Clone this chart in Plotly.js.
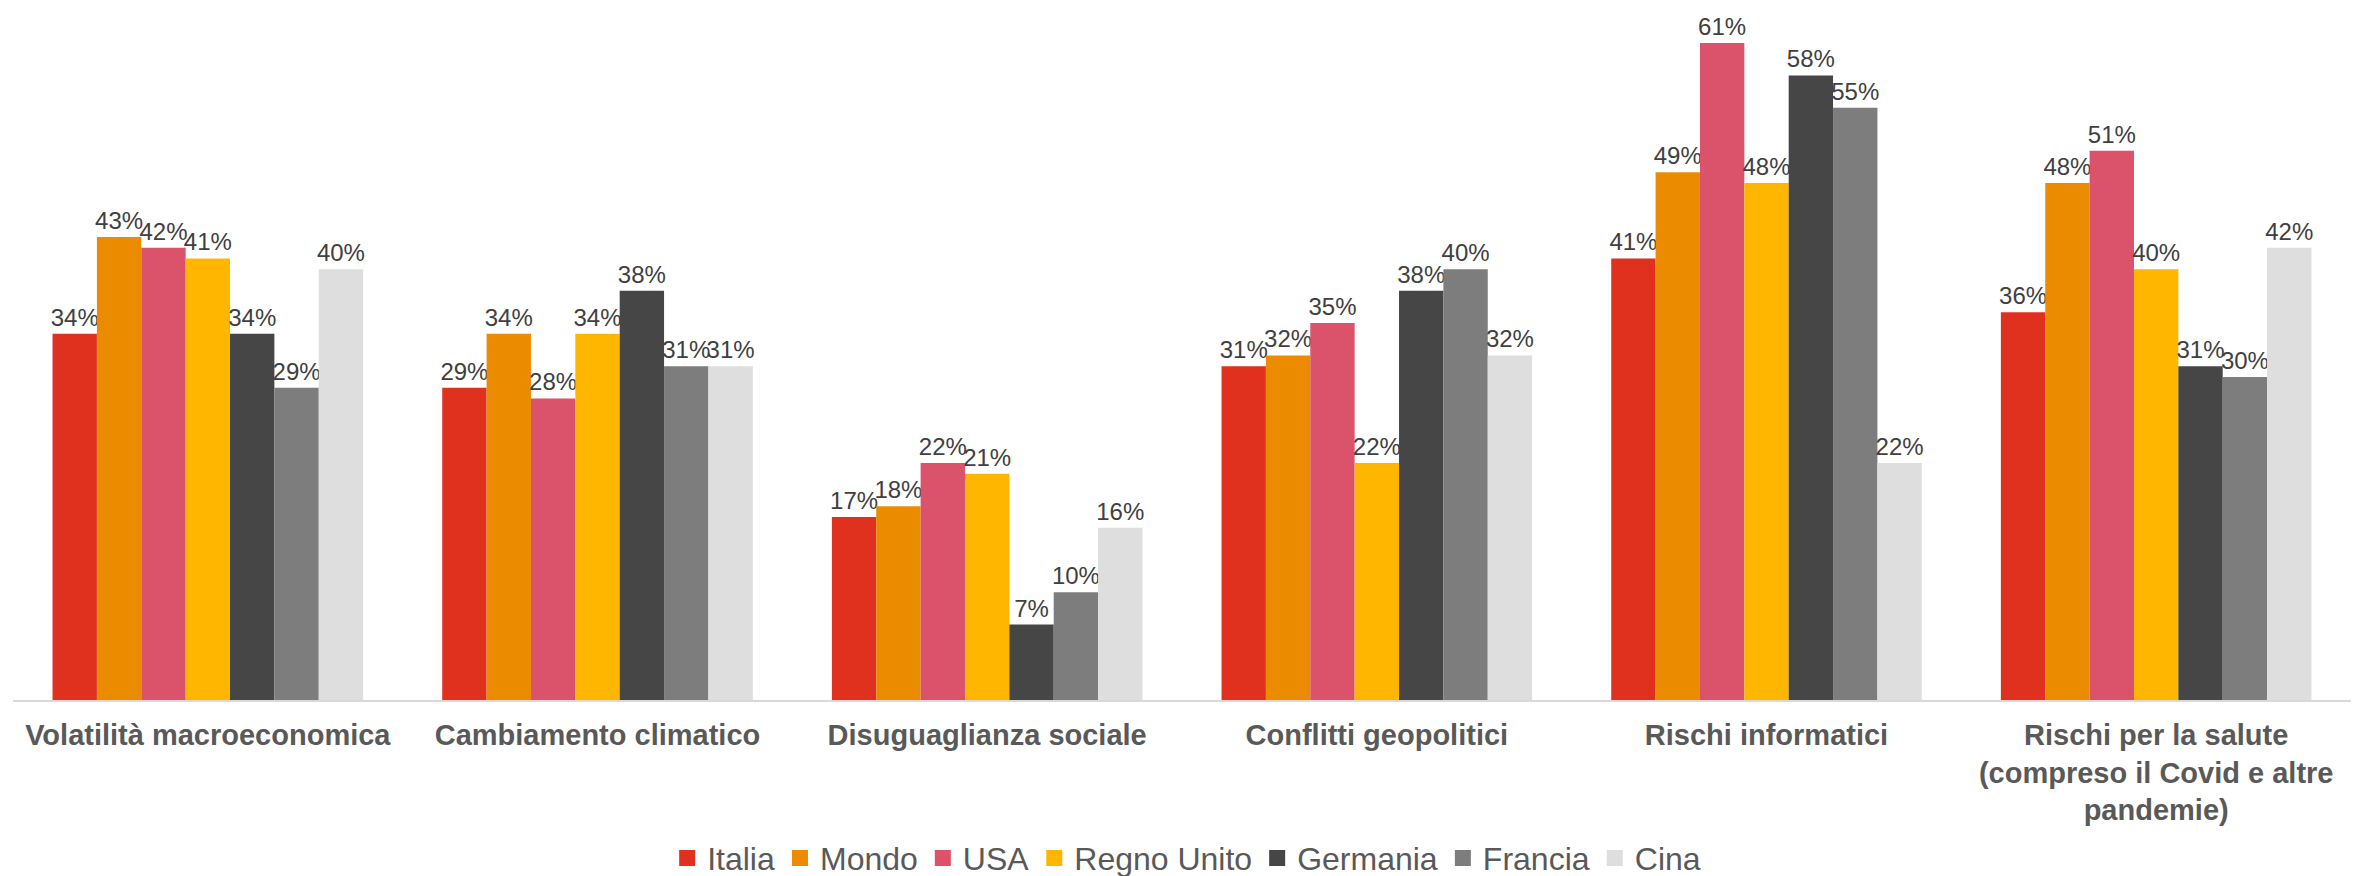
<!DOCTYPE html>
<html>
<head>
<meta charset="utf-8">
<script src="https://cdn.plot.ly/plotly-3.0.1.min.js"></script>
<style>html,body{margin:0;padding:0;background:#fff;}#chart{width:2364px;height:876px;}</style>
</head>
<body>
<div id="chart"></div>
<script>
const categories = [
  'Volatilità macroeconomica',
  'Cambiamento climatico',
  'Disuguaglianza sociale',
  'Conflitti geopolitici',
  'Rischi informatici',
  'Rischi per la salute<br>(compreso il Covid e altre<br>pandemie)'
];
const seriesNames = ['Italia', 'Mondo', 'USA', 'Regno Unito', 'Germania', 'Francia', 'Cina'];
const italia     = [34, 29, 17, 31, 41, 36];
const mondo      = [43, 34, 18, 32, 49, 48];
const usa        = [42, 28, 22, 35, 61, 51];
const regnoUnito = [41, 34, 21, 22, 48, 40];
const germania   = [34, 38, 7, 38, 58, 31];
const francia    = [29, 31, 10, 40, 55, 30];
const cina       = [40, 31, 16, 32, 22, 42];
const seriesValues = [italia, mondo, usa, regnoUnito, germania, francia, cina];
const colors = ['#E0301E', '#EB8C00', '#DB536A', '#FFB600', '#464646', '#7D7D7D', '#DEDEDE'];

const FONT = 'Liberation Sans, Arial, sans-serif';
const traces = [];
seriesNames.forEach((name, i) => {
  traces.push({
    type: 'bar',
    name: name,
    x: categories,
    y: seriesValues[i],
    marker: {color: colors[i], line: {width: 0}},
    text: seriesValues[i].map(v => v + '%'),
    textposition: 'outside',
    textfont: {family: FONT, size: 24, color: '#404040'},
    constraintext: 'none',
    cliponaxis: false,
    showlegend: false,
    hoverinfo: 'skip'
  });
});
seriesNames.forEach((name, i) => {
  traces.push({
    type: 'scatter',
    mode: 'markers',
    name: name,
    x: [null],
    y: [null],
    marker: {symbol: 'square', size: 16, color: colors[i]},
    showlegend: true,
    hoverinfo: 'skip'
  });
});

const layout = {
  width: 2364,
  height: 876,
  margin: {l: 13, r: 13, t: 0, b: 176, autoexpand: false},
  paper_bgcolor: '#ffffff',
  plot_bgcolor: '#ffffff',
  barmode: 'group',
  bargap: 0.203,
  bargroupgap: 0,
  font: {family: FONT, color: '#595959'},
  xaxis: {
    type: 'category',
    categoryorder: 'array',
    categoryarray: categories,
    automargin: false,
    showline: true,
    linecolor: '#D9D9D9',
    linewidth: 2,
    ticks: '',
    showgrid: false,
    zeroline: false,
    tickfont: {family: FONT, size: 29, color: '#595959', weight: 'bold'},
    ticklabelstandoff: 8
  },
  yaxis: {
    range: [0, 65],
    visible: false,
    showgrid: false,
    zeroline: false
  },
  legend: {
    orientation: 'h',
    x: 0.502,
    xanchor: 'center',
    y: -0.226,
    yanchor: 'middle',
    font: {family: FONT, size: 32, color: '#595959'},
    traceorder: 'normal',
    bgcolor: 'rgba(0,0,0,0)'
  },
  showlegend: true
};

Plotly.newPlot('chart', traces, layout, {displayModeBar: false, staticPlot: true});
</script>
</body>
</html>
